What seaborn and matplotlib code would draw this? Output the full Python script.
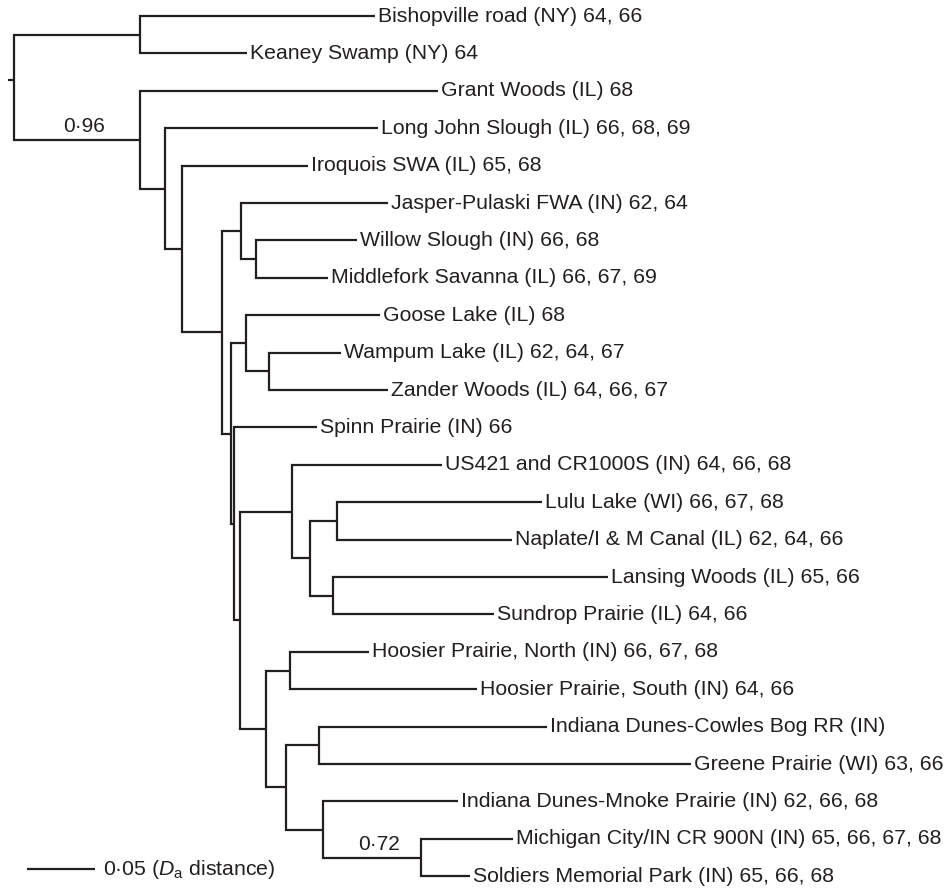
import numpy as np
import pandas as pd
import matplotlib
matplotlib.use("Agg")
import matplotlib.pyplot as plt
import seaborn as sns

# Tree data: leaves top to bottom, with tip depth (Da distance from root)
leaf_names = [
    "Bishopville road (NY) 64, 66",
    "Keaney Swamp (NY) 64",
    "Grant Woods (IL) 68",
    "Long John Slough (IL) 66, 68, 69",
    "Iroquois SWA (IL) 65, 68",
    "Jasper-Pulaski FWA (IN) 62, 64",
    "Willow Slough (IN) 66, 68",
    "Middlefork Savanna (IL) 66, 67, 69",
    "Goose Lake (IL) 68",
    "Wampum Lake (IL) 62, 64, 67",
    "Zander Woods (IL) 64, 66, 67",
    "Spinn Prairie (IN) 66",
    "US421 and CR1000S (IN) 64, 66, 68",
    "Lulu Lake (WI) 66, 67, 68",
    "Naplate/I & M Canal (IL) 62, 64, 66",
    "Lansing Woods (IL) 65, 66",
    "Sundrop Prairie (IL) 64, 66",
    "Hoosier Prairie, North (IN) 66, 67, 68",
    "Hoosier Prairie, South (IN) 64, 66",
    "Indiana Dunes-Cowles Bog RR (IN)",
    "Greene Prairie (WI) 63, 66",
    "Indiana Dunes-Mnoke Prairie (IN) 62, 66, 68",
    "Michigan City/IN CR 900N (IN) 65, 66, 67, 68",
    "Soldiers Memorial Park (IN) 65, 66, 68",
]
leaf_depth = [
    0.2654, 0.1713, 0.3118, 0.2676, 0.2162, 0.2750, 0.2522, 0.2309,
    0.2691, 0.2404, 0.2750, 0.2228, 0.3147, 0.3882, 0.3662, 0.4368,
    0.3529, 0.2610, 0.3404, 0.3919, 0.4978, 0.3265, 0.3669, 0.3353,
]

# internal nodes (children before parents): id, child a, child b, depth
node_ids = ["ny", "wm", "jwm", "wz", "gwz", "ln", "ls", "lnls", "us", "hh",
            "cg", "ms", "mms", "cgm", "hoos", "ush", "spinn", "grest", "e",
            "iroq", "lj", "grant", "root"]
node_a = [0, 6, 5, 9, 8, 13, 15, "ln", 12, 17,
          19, 22, 21, "cg", "hh", "us", 11, "gwz", "jwm",
          4, 3, 2, "ny"]
node_b = [1, 7, "wm", 10, "wz", 14, 16, "ls", "lnls", 18,
          20, 23, "ms", "mms", "cgm", "hoos", "ush", "spinn", "grest",
          "e", "iroq", "lj", "grant"]
node_depth = [0.0926, 0.1779, 0.1669, 0.1875, 0.1706, 0.2375, 0.2346, 0.2176,
              0.2044, 0.2029, 0.2243, 0.2993, 0.2272, 0.2000, 0.1853, 0.1662,
              0.1618, 0.1596, 0.1529, 0.1235, 0.1110, 0.0926, 0.0]

# bootstrap support on the branch leading to a node
support_nodes = ["grant", "ms"]
support_labels = ["0·96", "0·72"]

scale_length = 0.05
scale_label = r"0·05 ($\mathit{D}_{\mathrm{a}}$ distance)"

INK = "#231f20"
LW = 1.6

sns.set_theme(style="white")
plt.rcParams["font.family"] = ["Liberation Sans", "DejaVu Sans"]
plt.rcParams["mathtext.fontset"] = "custom"
plt.rcParams["mathtext.rm"] = "Liberation Sans"
plt.rcParams["mathtext.it"] = "Liberation Sans:italic"

# positions of every node
pos_x = {i: d for i, d in enumerate(leaf_depth)}
pos_y = {i: float(i) for i in range(len(leaf_names))}
parent_of = {}
for nid, a, b, d in zip(node_ids, node_a, node_b, node_depth):
    pos_x[nid] = d
    pos_y[nid] = (pos_y[a] + pos_y[b]) / 2
    parent_of[a] = nid
    parent_of[b] = nid

# elbow segments, one polyline per internal node
rows = []
for nid, a, b, d in zip(node_ids, node_a, node_b, node_depth):
    pts = [(pos_x[a], pos_y[a]), (d, pos_y[a]), (d, pos_y[b]), (pos_x[b], pos_y[b])]
    for k, (x, y) in enumerate(pts):
        rows.append({"seg": nid, "order": k, "x": x, "y": y})
# root stub
rows.append({"seg": "stub", "order": 0, "x": -0.0045, "y": pos_y["root"] - 0.2})
rows.append({"seg": "stub", "order": 1, "x": 0.0, "y": pos_y["root"] - 0.2})
seg_df = pd.DataFrame(rows)

fig = plt.figure(figsize=(9.45, 8.89), dpi=100)
ax = fig.add_axes([0, 0, 1, 1])

sns.lineplot(data=seg_df, x="x", y="y", units="seg", estimator=None,
             sort=False, color=INK, linewidth=LW, ax=ax, legend=False)
for line in ax.get_lines():
    line.set_solid_joinstyle("miter")
    line.set_solid_capstyle("butt")

for i, name in enumerate(leaf_names):
    ax.text(leaf_depth[i] + 0.0025, i, name, fontsize=15.3, color=INK,
            ha="left", va="center")

for nid, lab in zip(support_nodes, support_labels):
    x_mid = (pos_x[parent_of[nid]] + pos_x[nid]) / 2
    ax.text(x_mid + 0.005, pos_y[nid] - 0.1, lab, fontsize=15, color=INK,
            ha="center", va="bottom")

# scale bar
bar_y = len(leaf_names) - 1.19
bar_x0 = 0.0096
ax.plot([bar_x0, bar_x0 + scale_length], [bar_y, bar_y], color=INK,
        linewidth=LW, solid_capstyle="butt")
ax.text(bar_x0 + scale_length + 0.006, bar_y, scale_label, fontsize=15.3,
        color=INK, ha="left", va="center")

ax.set_xlim(-0.0103, 0.6846)
ax.set_ylim(23.34, -0.428)
ax.axis("off")

fig.savefig("out.png", dpi=100)
